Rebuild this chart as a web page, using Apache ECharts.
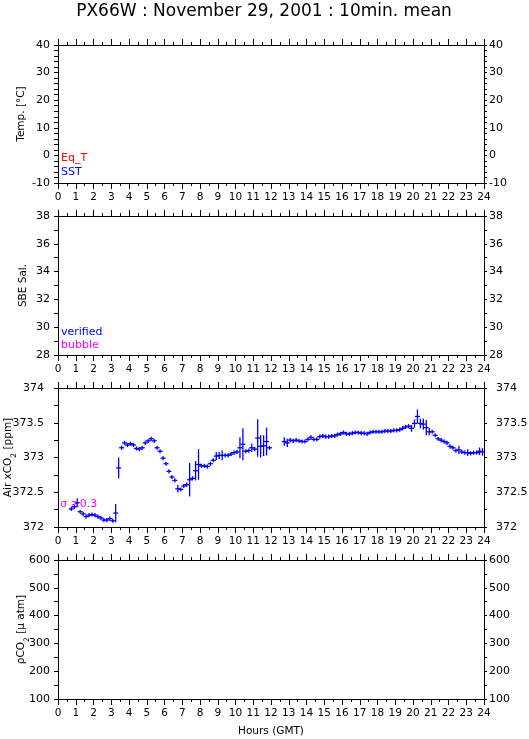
<!DOCTYPE html>
<html><head><meta charset="utf-8">
<script src="https://cdn.jsdelivr.net/npm/echarts@6/dist/echarts.min.js"></script>
<style>html,body{margin:0;padding:0;background:#fff}#c{width:529px;height:739px}</style>
</head><body><div id="c"></div>
<script>
// ---- data (Air xCO2 10-min means, hours GMT) ----
const timesA = ["0:45","0:55",
 "1:05","1:15","1:25","1:35","1:45","1:55",
 "2:05","2:15","2:25","2:35","2:45","2:55",
 "3:05","3:15","3:25","3:35","3:45","3:55",
 "4:05","4:15","4:25","4:35","4:45","4:55",
 "5:05","5:15","5:25","5:35","5:45","5:55",
 "6:05","6:15","6:25","6:35","6:45","6:55",
 "7:05","7:15","7:25","7:35","7:45","7:55",
 "8:05","8:15","8:25","8:35","8:45","8:55",
 "9:05","9:15","9:25","9:35","9:45","9:55",
 "10:05","10:15","10:25","10:35","10:45","10:55",
 "11:05","11:15","11:25","11:35","11:45","11:55"];
const co2A = [372.26,372.29,
 372.35,372.22,372.19,372.15,372.17,372.18,
 372.17,372.15,372.13,372.10,372.10,372.12,
 372.09,372.20,372.85,373.14,373.21,373.18,
 373.20,373.18,373.13,373.12,373.14,373.21,
 373.24,373.27,373.24,373.14,373.09,372.99,
 372.91,372.80,372.72,372.67,372.55,372.54,
 372.59,372.61,372.68,372.70,372.81,372.90,
 372.88,372.88,372.87,372.91,372.96,373.02,
 373.03,373.03,373.03,373.03,373.05,373.07,
 373.08,373.14,373.19,373.09,373.10,373.14,
 373.12,373.28,373.16,373.17,373.23,373.14];
const errA = [0.03,0.03,
 0.06,0.03,0.03,0.03,0.03,0.03,
 0.03,0.03,0.03,0.03,0.03,0.03,
 0.03,0.13,0.15,0.03,0.03,0.03,
 0.03,0.03,0.03,0.03,0.03,0.03,
 0.03,0.03,0.03,0.03,0.03,0.03,
 0.03,0.03,0.03,0.03,0.055,0.03,
 0.03,0.03,0.24,0.03,0.14,0.22,
 0.03,0.03,0.03,0.03,0.03,0.06,
 0.05,0.07,0.03,0.03,0.03,0.03,
 0.03,0.15,0.23,0.03,0.03,0.06,
 0.03,0.27,0.16,0.15,0.20,0.03];
const timesB = ["12:45","12:55",
 "13:05","13:15","13:25","13:35","13:45","13:55",
 "14:05","14:15","14:25","14:35","14:45","14:55",
 "15:05","15:15","15:25","15:35","15:45","15:55",
 "16:05","16:15","16:25","16:35","16:45","16:55",
 "17:05","17:15","17:25","17:35","17:45","17:55",
 "18:05","18:15","18:25","18:35","18:45","18:55",
 "19:05","19:15","19:25","19:35","19:45","19:55",
 "20:05","20:15","20:25","20:35","20:45","20:55",
 "21:05","21:15","21:25","21:35","21:45","21:55",
 "22:05","22:15","22:25","22:35","22:45","22:55",
 "23:05","23:15","23:25","23:35","23:45","23:55"];
const co2B = [373.23,373.21,
 373.25,373.24,373.25,373.24,373.23,373.23,
 373.26,373.29,373.26,373.26,373.30,373.31,
 373.30,373.30,373.31,373.31,373.33,373.34,
 373.36,373.34,373.34,373.35,373.36,373.36,
 373.35,373.35,373.34,373.36,373.37,373.37,
 373.37,373.37,373.38,373.38,373.38,373.39,
 373.39,373.40,373.42,373.44,373.45,373.42,
 373.49,373.59,373.49,373.48,373.43,373.37,
 373.37,373.32,373.27,373.25,373.23,373.21,
 373.16,373.14,373.10,373.11,373.08,373.07,
 373.07,373.06,373.07,373.07,373.09,373.08];
const errB = [0.06,0.06,
 0.03,0.03,0.03,0.03,0.03,0.03,
 0.03,0.03,0.03,0.03,0.03,0.03,
 0.03,0.03,0.03,0.03,0.03,0.03,
 0.03,0.03,0.03,0.03,0.03,0.03,
 0.03,0.03,0.03,0.03,0.03,0.03,
 0.03,0.03,0.03,0.03,0.03,0.03,
 0.03,0.03,0.03,0.03,0.03,0.05,
 0.06,0.10,0.07,0.08,0.11,0.05,
 0.03,0.03,0.03,0.03,0.03,0.03,
 0.03,0.03,0.03,0.06,0.03,0.03,
 0.05,0.03,0.03,0.03,0.055,0.055];

// ---- axes ----
const panelNames = ['Temp. [°C]', 'SBE Sal.', 'Air xCO{s|2} [ppm]', 'ρCO{s|2} [μ atm]'];
const yMins = [-10, 28, 372, 100];
const yMaxs = [40, 38, 374, 600];
const yIntervals = [10, 2, 0.5, 100];
const yMinorSplits = [5, 2, 2, 2];
const hourMin = 0, hourMax = 24, hourStep = 1;

const FONT = 'DejaVu Sans';
const toHours = s => { const p = s.split(':'); return +p[0] + (+p[1]) / 60; };
const pts = [];
timesA.forEach((t, i) => pts.push([toHours(t), co2A[i], errA[i]]));
timesB.forEach((t, i) => pts.push([toHours(t), co2B[i], errB[i]]));

const tops = [45, 216, 388, 560];
const heights = [138, 139, 139, 139];
const grids = tops.map((t, i) => ({left: 58, top: t, width: 426, height: heights[i],
  containLabel: false, outerBoundsMode: 'none'}));
const nameGaps = [31, 29, 44, 31];

const axisLine = {show: true, onZero: false, lineStyle: {color: '#000', width: 1}};
const xAxes = [], yAxes = [];
for (let i = 0; i < 4; i++) {
  const base = {
    type: 'value', gridIndex: i, min: hourMin, max: hourMax, interval: hourStep,
    axisLine, splitLine: {show: false},
    axisTick: {show: true, length: 6, lineStyle: {color: '#000'}},
    minorTick: {show: true, splitNumber: 2, length: 3, lineStyle: {color: '#000'}}
  };
  xAxes.push(Object.assign({}, base, {
    position: 'bottom',
    axisLabel: {show: true, margin: 9, color: '#000', fontFamily: FONT, fontSize: 10.5},
    name: i === 3 ? 'Hours (GMT)' : '', nameLocation: 'middle', nameGap: 27,
    nameMoveOverlap: false,
    nameTextStyle: {color: '#000', fontFamily: FONT, fontSize: 10.5}
  }));
  xAxes.push(Object.assign({}, base, {position: 'top', axisLabel: {show: false}}));
  const yb = {
    type: 'value', gridIndex: i, min: yMins[i], max: yMaxs[i], interval: yIntervals[i],
    axisLine, splitLine: {show: false},
    axisTick: {show: true, length: 4, lineStyle: {color: '#000'}},
    minorTick: {show: true, splitNumber: yMinorSplits[i], length: 4, lineStyle: {color: '#000'}}
  };
  yAxes.push(Object.assign({}, yb, {
    position: 'left',
    axisLabel: {margin: i === 2 ? 14 : 8, color: '#000', fontFamily: FONT, fontSize: 11},
    name: panelNames[i], nameLocation: 'middle', nameRotate: 90,
    nameGap: nameGaps[i], nameMoveOverlap: false,
    nameTextStyle: {color: '#000', fontFamily: FONT, fontSize: 10.5,
      rich: {s: {fontFamily: FONT, fontSize: 7.5, verticalAlign: 'bottom', padding: [0, 0, -4, 0]}}}
  }));
  yAxes.push(Object.assign({}, yb, {
    position: 'right',
    axisTick: {show: true, length: 3, lineStyle: {color: '#000'}},
    minorTick: {show: true, splitNumber: yMinorSplits[i], length: 3, lineStyle: {color: '#000'}},
    axisLabel: {margin: i === 2 ? 12 : 5, color: '#000', fontFamily: FONT, fontSize: 11}
  }));
}

const txt = (x, y, text, fill, size) => ({type: 'text', x, y, silent: true,
  style: {text, fill, font: size + 'px "' + FONT + '"', textVerticalAlign: 'middle'}});

const chart = echarts.init(document.getElementById('c'), null, {renderer: 'canvas'});
chart.setOption({
  animation: false,
  backgroundColor: '#fff',
  grid: grids,
  xAxis: xAxes,
  yAxis: yAxes,
  graphic: [
    {type: 'text', x: 264, y: 12, silent: true,
     style: {text: 'PX66W : November 29, 2001 : 10min. mean', fill: '#000',
       font: '17px "' + FONT + '"', textAlign: 'center', textVerticalAlign: 'middle'}},
    txt(61, 158, 'Eq_T', '#ff0000', 11),
    txt(61, 172, 'SST', '#0000ff', 11),
    txt(61, 332, 'verified', '#0000ff', 11),
    txt(61, 345, 'bubble', '#ff00ff', 11),
    txt(60, 504, 'σ ≥0.3', '#ff00ff', 11)
  ],
  series: [{
    type: 'custom', xAxisIndex: 4, yAxisIndex: 4, data: pts,
    renderItem: function (params, api) {
      const x = api.value(0), y = api.value(1), e = api.value(2);
      const c = api.coord([x, y]);
      const t = api.coord([x, y + e])[1], b = api.coord([x, y - e])[1];
      const st = {stroke: '#0000ff', lineWidth: 1.3};
      return {type: 'group', children: [
        {type: 'line', shape: {x1: c[0] - 2.5, y1: c[1], x2: c[0] + 2.5, y2: c[1]}, style: st},
        {type: 'line', shape: {x1: c[0], y1: t, x2: c[0], y2: b}, style: st}
      ]};
    }
  }]
});
</script></body></html>
